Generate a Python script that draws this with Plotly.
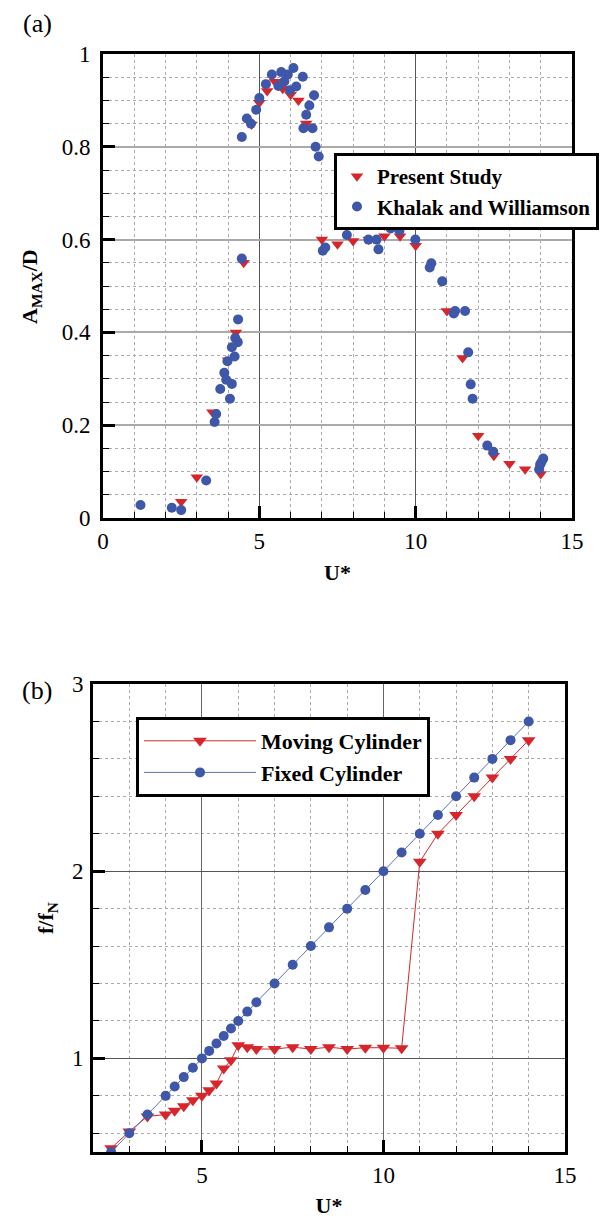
import plotly.graph_objects as go

# ---------------- Panel (a) data ----------------
u_present = [2.5, 3.0, 3.5, 4.0, 4.25, 4.5, 4.75, 5.0, 5.25, 5.5, 5.75, 6.0, 6.25, 6.5,
             7.0, 7.5, 8.0, 8.5, 9.0, 9.5, 10.0, 11.0, 11.5, 12.0, 12.5, 13.0, 13.5, 14.0]
a_present = [0.035, 0.088, 0.228, 0.34, 0.40, 0.55, 0.848, 0.895, 0.92, 0.94, 0.925, 0.912, 0.90, 0.85,
             0.60, 0.59, 0.597, 0.60, 0.607, 0.607, 0.587, 0.446, 0.345, 0.177, 0.134, 0.117, 0.105, 0.095]

u_khalak = [1.2, 2.2, 2.5, 3.3, 3.57, 3.62, 3.75, 3.88, 3.94, 3.98, 4.06, 4.12, 4.12, 4.21, 4.23,
            4.31, 4.32, 4.44, 4.44, 4.6, 4.73, 4.9, 5.0, 5.21, 5.4, 5.61, 5.7, 5.8, 5.91, 5.98,
            6.09, 6.18, 6.39, 6.41, 6.5, 6.6, 6.7, 6.75, 6.8, 6.9, 7.03, 7.11, 7.8, 8.49, 8.75,
            8.81, 9.2, 9.48, 9.99, 10.45, 10.5, 10.85, 11.22, 11.26, 11.58, 11.68, 11.76, 11.82,
            12.29, 12.48, 13.95, 13.98, 14.02, 14.08]
a_khalak = [0.028, 0.022, 0.017, 0.081, 0.207, 0.224, 0.278, 0.313, 0.298, 0.338, 0.257, 0.289, 0.368, 0.348, 0.388,
            0.379, 0.428, 0.559, 0.821, 0.861, 0.85, 0.88, 0.905, 0.935, 0.956, 0.931, 0.961, 0.941, 0.956, 0.922,
            0.970, 0.930, 0.951, 0.84, 0.869, 0.889, 0.84, 0.911, 0.80, 0.779, 0.576, 0.583, 0.61, 0.60, 0.60,
            0.579, 0.624, 0.619, 0.60, 0.54, 0.549, 0.51, 0.441, 0.446, 0.446, 0.357, 0.288, 0.257,
            0.156, 0.143, 0.105, 0.115, 0.12, 0.128]

# ---------------- Panel (b) data ----------------
u_moving = [2.5, 3.0, 3.5, 4.0, 4.25, 4.5, 4.75, 5.0, 5.2, 5.4, 5.6, 5.8, 6.0, 6.25, 6.5,
            7.0, 7.5, 8.0, 8.5, 9.0, 9.5, 10.0, 10.5, 11.0, 11.5, 12.0, 12.5, 13.0, 13.5, 14.0]
f_moving = [0.52, 0.61, 0.69, 0.70, 0.72, 0.745, 0.776, 0.80, 0.83, 0.866, 0.946, 0.99, 1.07, 1.06, 1.05,
            1.05, 1.06, 1.05, 1.06, 1.05, 1.057, 1.057, 1.054, 2.05, 2.20, 2.30, 2.40, 2.50, 2.60, 2.70]

u_fixed = [2.5, 3.0, 3.5, 4.0, 4.25, 4.5, 4.75, 5.0, 5.2, 5.4, 5.6, 5.8, 6.0, 6.25, 6.5,
           7.0, 7.5, 8.0, 8.5, 9.0, 9.5, 10.0, 10.5, 11.0, 11.5, 12.0, 12.5, 13.0, 13.5, 14.0]
f_fixed = [0.5, 0.6, 0.7, 0.8, 0.85, 0.9, 0.95, 1.0, 1.04, 1.08, 1.12, 1.16, 1.2, 1.25, 1.3,
           1.4, 1.5, 1.6, 1.7, 1.8, 1.9, 2.0, 2.1, 2.2, 2.3, 2.4, 2.5, 2.6, 2.7, 2.8]

RED = "#d7262b"
BLUE = "#3f57a8"
FONT = "Liberation Serif"
W, H = 604, 1218

fig = go.Figure()

fig.add_trace(go.Scatter(x=u_present, y=a_present, mode="markers", name="<b>Present Study</b>",
                         marker=dict(symbol="triangle-down", size=11, color=RED),
                         xaxis="x", yaxis="y", legend="legend"))
fig.add_trace(go.Scatter(x=u_khalak, y=a_khalak, mode="markers", name="<b>Khalak and Williamson</b>",
                         marker=dict(symbol="circle", size=10, color=BLUE),
                         xaxis="x", yaxis="y", legend="legend"))

fig.add_trace(go.Scatter(x=u_moving, y=f_moving, mode="lines+markers", name="<b>Moving Cylinder</b>",
                         marker=dict(symbol="triangle-down", size=12, color=RED),
                         line=dict(color=RED, width=1),
                         xaxis="x2", yaxis="y2", legend="legend2"))
fig.add_trace(go.Scatter(x=u_fixed, y=f_fixed, mode="lines+markers", name="<b>Fixed Cylinder</b>",
                         marker=dict(symbol="circle", size=10, color=BLUE),
                         line=dict(color="#5b6fb8", width=1),
                         xaxis="x2", yaxis="y2", legend="legend2"))

tickfont = dict(family=FONT, size=23, color="black")
titlefont = dict(family=FONT, size=22, color="black")

def axis_common():
    return dict(showline=True, mirror=True, linecolor="black", linewidth=3,
                ticks="inside", ticklen=12, tickwidth=3, tickcolor="black",
                tickfont=tickfont, zeroline=False, showgrid=True, automargin=False)

minor_x = dict(dtick=1, showgrid=True, griddash="dot", gridcolor="#aaaaaa", gridwidth=1,
               ticks="inside", ticklen=6, tickcolor="black", tickwidth=1)

xa = axis_common()
xa.update(domain=[103 / W, 572 / W], range=[0, 15], tick0=0, dtick=5,
          gridcolor="#555555", gridwidth=1, minor=minor_x,
          title=dict(text="<b>U*</b>", font=titlefont, standoff=13), anchor="y")
ya = axis_common()
ya.update(domain=[1 - 518 / H, 1 - 54 / H], range=[0, 1], tick0=0, dtick=0.2,
          gridcolor="#aaaaaa", gridwidth=2, ticklabelstandoff=5,
          minor=dict(dtick=0.05, showgrid=True, griddash="dot", gridcolor="#aaaaaa", gridwidth=1,
                     ticks="inside", ticklen=6, tickcolor="black", tickwidth=1),
          anchor="x")

xb = axis_common()
xb.update(domain=[93 / W, 565 / W], range=[2, 15], tick0=0, dtick=5,
          gridcolor="#666666", gridwidth=1, minor=minor_x,
          title=dict(text="<b>U*</b>", font=titlefont, standoff=18), anchor="y2")
yb = axis_common()
yb.update(domain=[1 - 1152 / H, 1 - 684 / H], range=[0.5, 3], tick0=0, dtick=1,
          gridcolor="#555555", gridwidth=1, ticklabelstandoff=2,
          minor=dict(dtick=0.2, showgrid=True, griddash="dot", gridcolor="#aaaaaa", gridwidth=1,
                     ticks="inside", ticklen=6, tickcolor="black", tickwidth=1),
          anchor="x2")

fig.update_layout(
    width=W, height=H, margin=dict(l=0, r=0, t=0, b=0, autoexpand=False),
    paper_bgcolor="white", plot_bgcolor="white",
    xaxis=xa, yaxis=ya, xaxis2=xb, yaxis2=yb,
    legend=dict(x=334 / W, y=1 - 153 / H, xanchor="left", yanchor="top",
                bgcolor="white", bordercolor="black", borderwidth=3,
                font=dict(family=FONT, size=21, color="black"),
                itemwidth=30, tracegroupgap=0),
    legend2=dict(x=136 / W, y=1 - 717 / H, xanchor="left", yanchor="top",
                 bgcolor="white", bordercolor="black", borderwidth=3,
                 font=dict(family=FONT, size=22, color="black"),
                 itemwidth=112, tracegroupgap=0),
    annotations=[
        dict(text="(a)", x=37 / W, y=1 - 24 / H, xref="paper", yref="paper", xanchor="center",
             yanchor="middle", showarrow=False, font=dict(family=FONT, size=26, color="black")),
        dict(text="(b)", x=37 / W, y=1 - 690 / H, xref="paper", yref="paper", xanchor="center",
             yanchor="middle", showarrow=False, font=dict(family=FONT, size=26, color="black")),
        dict(text="<b>A<sub>MAX</sub>/D</b>", x=31 / W, y=1 - 287 / H, xref="paper", yref="paper",
             textangle=-90, showarrow=False, xanchor="center", yanchor="middle",
             font=titlefont),
        dict(text="<b>f/f<sub>N</sub></b>", x=47 / W, y=1 - 918 / H, xref="paper", yref="paper",
             textangle=-90, showarrow=False, xanchor="center", yanchor="middle",
             font=titlefont),
    ],
    showlegend=True,
)

fig.write_html("out.html", config={"displayModeBar": False},
               post_script="document.body.style.margin='0px';document.body.style.overflow='hidden';")
